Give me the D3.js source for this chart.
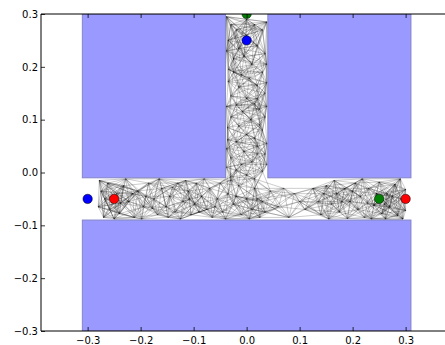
<!DOCTYPE html>
<html>
<head>
<meta charset="utf-8">
<script src="https://cdn.jsdelivr.net/npm/d3@7"></script>
<style>
  body { margin: 0; background: #fff; }
  text { font-family: "DejaVu Sans", sans-serif; }
</style>
</head>
<body>
<div class="chart"></div>
<script>
// obstacles: [x0, x1, y0, y1]
var obstacles = [
  [-0.31, -0.04, -0.01, 0.3],
  [0.04, 0.31, -0.01, 0.3],
  [-0.31, 0.31, -0.3, -0.09]
];

// start / goal markers
var blueCircles = [[-0.3, -0.05], [0.0, 0.25]];
var redCircles = [[-0.25, -0.05], [0.3, -0.05]];
var greenCircles = [[0.25, -0.05], [0.0, 0.3]];

// roadmap nodes (horizontal corridor)
var corridorNodes = [
  [-0.28, -0.065], [-0.275, -0.035], [-0.27, -0.085], [-0.262, -0.02], [-0.258, -0.07],
  [-0.245, -0.04], [-0.24, -0.078], [-0.232, -0.025], [-0.222, -0.055], [-0.212, -0.085],
  [-0.205, -0.035], [-0.195, -0.065], [-0.185, -0.02], [-0.175, -0.05], [-0.168, -0.08],
  [-0.16, -0.03], [-0.152, -0.065], [-0.145, -0.045], [-0.135, -0.075], [-0.13, -0.02],
  [-0.12, -0.055], [-0.11, -0.035], [-0.105, -0.08], [-0.098, -0.06], [-0.095, -0.02],
  [-0.085, -0.045], [-0.075, -0.07], [-0.07, -0.03], [-0.065, -0.085], [-0.055, -0.05],
  [-0.05, -0.02], [-0.045, -0.075], [-0.035, -0.04], [-0.025, -0.06], [-0.015, -0.025],
  [-0.01, -0.08], [0.0, -0.05], [0.01, -0.07], [0.015, -0.03], [0.025, -0.085],
  [0.03, -0.055], [0.045, -0.035], [0.06, -0.065], [0.08, -0.085], [0.09, -0.04],
  [0.11, -0.07], [0.125, -0.03], [0.135, -0.055], [0.14, -0.08], [0.15, -0.025],
  [0.16, -0.06], [0.17, -0.04], [0.175, -0.075], [0.185, -0.03], [0.19, -0.087],
  [0.195, -0.055], [0.205, -0.02], [0.21, -0.07], [0.215, -0.045], [0.222, -0.085],
  [0.23, -0.03], [0.24, -0.062], [0.25, -0.018], [0.255, -0.078], [0.265, -0.04],
  [0.27, -0.065], [0.28, -0.022], [0.285, -0.082], [0.292, -0.05], [0.3, -0.032],
  [0.3, -0.072],
  [-0.278, -0.015], [-0.268, -0.05], [-0.25, -0.088], [-0.238, -0.058], [-0.228, -0.012],
  [-0.215, -0.04], [-0.198, -0.088], [-0.19, -0.045], [-0.178, -0.068], [-0.165, -0.012],
  [-0.148, -0.085], [-0.14, -0.028], [-0.125, -0.088], [-0.115, -0.015], [-0.108, -0.05],
  [-0.09, -0.075], [-0.08, -0.012], [-0.06, -0.065], [-0.04, -0.088], [-0.03, -0.015],
  [-0.02, -0.045], [0.005, -0.088], [0.02, -0.05], [0.035, -0.075], [0.07, -0.03],
  [0.1, -0.055], [0.145, -0.04], [0.155, -0.088], [0.165, -0.015], [0.18, -0.055],
  [0.2, -0.035], [0.218, -0.012], [0.228, -0.058], [0.235, -0.088], [0.245, -0.04],
  [0.26, -0.06], [0.275, -0.045], [0.29, -0.012], [0.295, -0.088], [0.262, -0.088]
];

// roadmap nodes (vertical corridor)
var shaftNodes = [
  [0.0, 0.29], [-0.03, 0.28], [0.03, 0.27], [-0.035, 0.25], [0.02, 0.24],
  [0.035, 0.225], [-0.015, 0.235], [-0.025, 0.215], [-0.034, 0.195], [0.01, 0.205],
  [0.03, 0.19], [-0.01, 0.185], [-0.035, 0.172], [-0.015, 0.162], [0.02, 0.165],
  [-0.03, 0.145], [0.035, 0.15], [0.0, 0.14], [-0.02, 0.128], [0.025, 0.12],
  [0.035, 0.105], [0.008, 0.1], [-0.03, 0.105], [-0.036, 0.085], [0.03, 0.08],
  [0.0, 0.072], [-0.02, 0.058], [0.02, 0.05], [-0.005, 0.04], [0.035, 0.035],
  [-0.03, 0.028], [0.01, 0.02], [0.03, 0.002], [-0.02, 0.005], [0.0, -0.005],
  [-0.036, 0.062], [0.015, 0.13], [0.0, 0.26], [-0.02, 0.27], [0.025, 0.09],
  [0.038, 0.285], [-0.038, 0.295], [0.015, 0.28], [-0.005, 0.22], [0.038, 0.205],
  [-0.038, 0.23], [0.005, 0.178], [0.038, 0.17], [-0.025, 0.19], [0.02, 0.14],
  [-0.038, 0.125], [-0.008, 0.115], [0.038, 0.125], [-0.015, 0.088], [0.015, 0.065],
  [0.038, 0.055], [-0.038, 0.045], [-0.01, 0.015], [0.02, 0.035], [-0.038, 0.01],
  [0.038, 0.015], [0.015, -0.012], [-0.03, -0.008]
];

var margin = { left: 41, top: 14 };
var plotHeight = 317;
var unit = 530; // pixels per data unit along x

var svg = d3.select('.chart')
  .append('svg')
  .attr('width', 445)
  .attr('height', 345);

var x = d3.scaleLinear()
  .domain([-0.388, 0.4])
  .range([margin.left, margin.left + 0.788 * unit]);

var y = d3.scaleLinear()
  .domain([-0.3, 0.3])
  .range([margin.top + plotHeight, margin.top]);

svg.append('clipPath')
  .attr('id', 'plot-clip')
  .append('rect')
  .attr('x', x(-0.388))
  .attr('y', y(0.3))
  .attr('width', x(0.4) - x(-0.388))
  .attr('height', plotHeight);

var plot = svg.append('g').attr('clip-path', 'url(#plot-clip)');

plot.selectAll('.obstacle')
  .data(obstacles)
  .enter()
  .append('rect')
  .attr('class', 'obstacle')
  .attr('x', d => x(d[0]))
  .attr('y', d => y(d[3]))
  .attr('width', d => x(d[1]) - x(d[0]))
  .attr('height', d => y(d[2]) - y(d[3]))
  .attr('fill', '#9999ff')
  .attr('stroke', '#8585c8')
  .attr('stroke-width', 1);

// connect every node to its nearest free neighbours
var nodes = corridorNodes.concat(shaftNodes);

function blocked(a, b) {
  for (var s = 0; s <= 20; s++) {
    var t = s / 20;
    var px = a[0] + (b[0] - a[0]) * t;
    var py = a[1] + (b[1] - a[1]) * t;
    for (var o of obstacles) {
      if (px > o[0] && px < o[1] && py > o[2] && py < o[3]) return true;
    }
  }
  return false;
}

var edges = [];
var seen = {};
nodes.forEach((a, i) => {
  var near = nodes
    .map((b, j) => ({ j: j, d: Math.hypot(a[0] - b[0], a[1] - b[1]) }))
    .filter(n => n.j !== i)
    .sort((p, q) => p.d - q.d)
    .slice(0, 14);
  near.forEach(n => {
    var key = Math.min(i, n.j) + '-' + Math.max(i, n.j);
    if (seen[key] || blocked(a, nodes[n.j])) return;
    seen[key] = true;
    edges.push([a, nodes[n.j]]);
  });
});

plot.selectAll('.edge')
  .data(edges)
  .enter()
  .append('line')
  .attr('class', 'edge')
  .attr('x1', d => x(d[0][0]))
  .attr('y1', d => y(d[0][1]))
  .attr('x2', d => x(d[1][0]))
  .attr('y2', d => y(d[1][1]))
  .attr('stroke', '#000')
  .attr('stroke-opacity', 0.4)
  .attr('stroke-width', 0.5);

var markers = [
  { pts: blueCircles, color: '#0000ff' },
  { pts: redCircles, color: '#ff0000' },
  { pts: greenCircles, color: '#008000' }
];

markers.forEach(m => {
  plot.selectAll(null)
    .data(m.pts)
    .enter()
    .append('circle')
    .attr('cx', d => x(d[0]))
    .attr('cy', d => y(d[1]))
    .attr('r', 4.7)
    .attr('fill', m.color)
    .attr('stroke', '#000')
    .attr('stroke-width', 0.5);
});

// axes, ticks pointing inward
var xTicks = [-0.3, -0.2, -0.1, 0.0, 0.1, 0.2, 0.3];
var yTicks = [-0.3, -0.2, -0.1, 0.0, 0.1, 0.2, 0.3];
var fmt = d3.format('.1f');

svg.append('g')
  .attr('transform', `translate(0, ${y(-0.3)})`)
  .call(d3.axisBottom(x).tickValues(xTicks).tickFormat(fmt).tickSize(-4).tickPadding(6));

svg.append('g')
  .attr('transform', `translate(0, ${y(0.3)})`)
  .call(d3.axisTop(x).tickValues(xTicks).tickFormat('').tickSize(-4));

var yAxis = svg.append('g')
  .attr('transform', `translate(${margin.left}, 0)`)
  .call(d3.axisLeft(y).tickValues(yTicks).tickFormat(fmt).tickSize(-4).tickPadding(4));

svg.selectAll('.domain').remove();
svg.selectAll('.tick line').attr('stroke', '#000').attr('stroke-width', 0.8);
svg.selectAll('.tick text')
  .attr('fill', '#000')
  .style('font-size', '10px')
  .style('font-family', '"DejaVu Sans", sans-serif');
yAxis.selectAll('.tick text').attr('dx', '0.1em');

// spines
svg.append('path')
  .attr('d', `M${x(0.4)},${y(0.3)}H${margin.left}V${y(-0.3)}H${x(0.4)}`)
  .attr('fill', 'none')
  .attr('stroke', '#000')
  .attr('stroke-width', 1);
</script>
</body>
</html>
